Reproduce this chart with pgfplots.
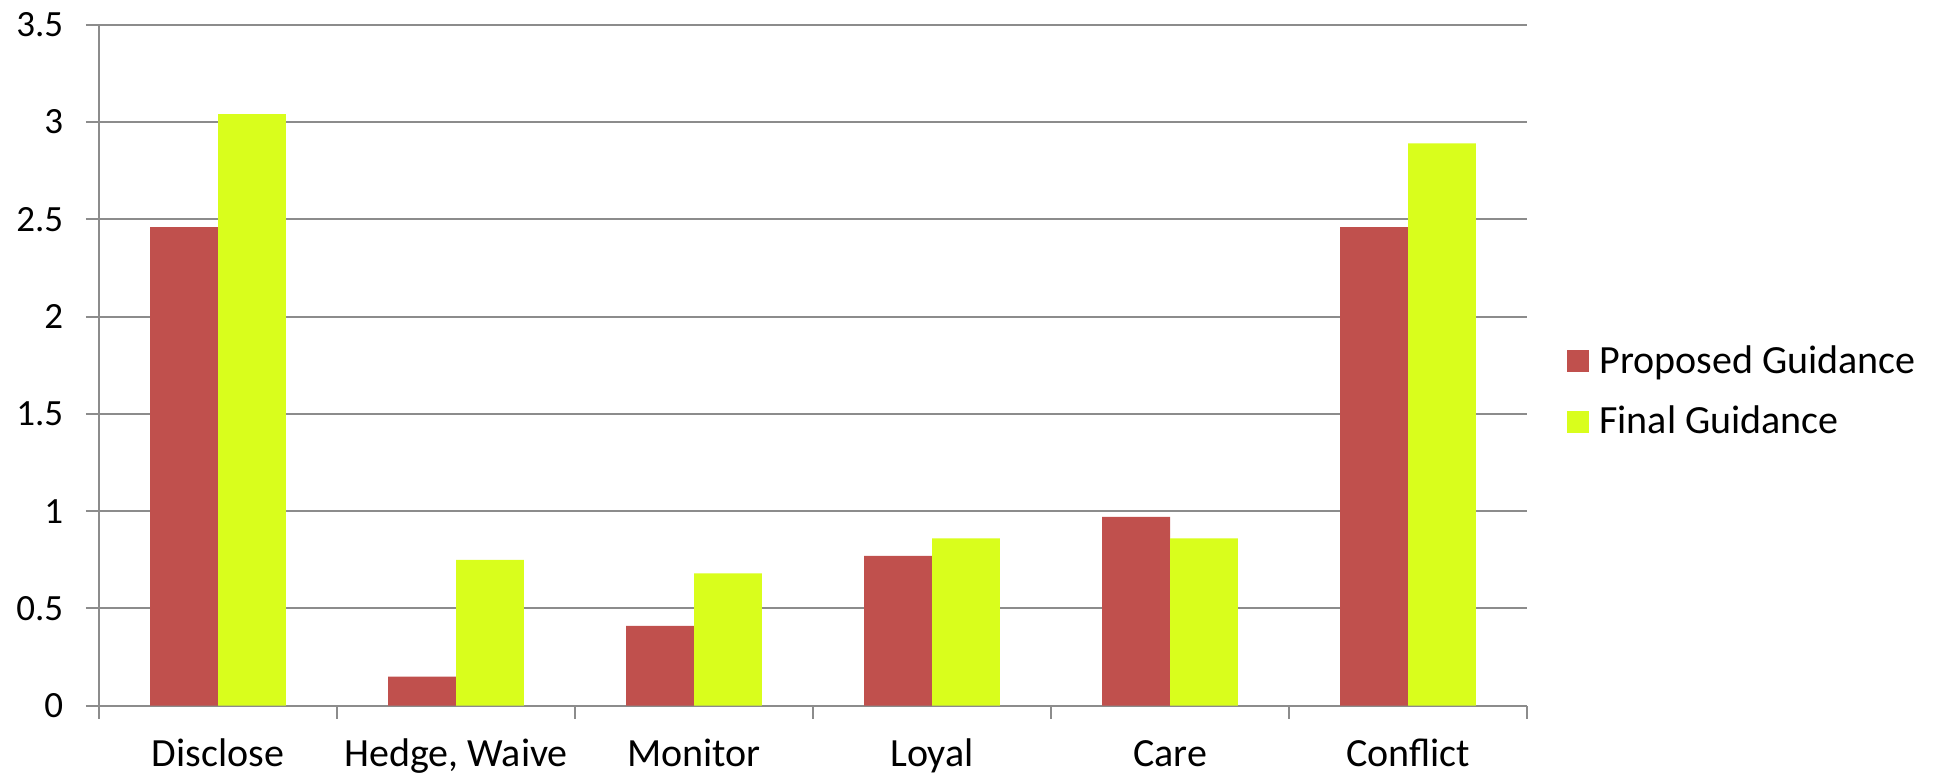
\documentclass[border=0pt]{standalone}
\usepackage{pgfplots}
\pgfplotsset{compat=1.18}
\usepackage{fontspec}
\setmainfont{Carlito}
\definecolor{redbar}{HTML}{C0504D}
\definecolor{greenbar}{HTML}{D9FE1C}
\definecolor{gridgray}{HTML}{8C8C8C}
\newcommand{\tickfont}{\fontsize{18.5}{22}\selectfont}
\newcommand{\catfont}{\fontsize{20}{24}\selectfont}
\newcommand{\legfont}{\fontsize{20}{24}\selectfont}
\begin{document}
\begin{tikzpicture}
\begin{axis}[
  scale only axis,
  width=714pt, height=340.5pt,
  xmin=-0.5, xmax=5.5,
  ymin=0, ymax=3.5,
  axis x line*=bottom,
  axis y line*=left,
  axis line style={gridgray, line width=1pt, -},
  tick align=outside,
  major tick length=6.5pt,
  tick style={gridgray, line width=1pt},
  xtick={-0.5,0.5,1.5,2.5,3.5,4.5,5.5},
  xticklabels={},
  extra x ticks={0,1,2,3,4,5},
  extra x tick labels={Disclose,{Hedge, Waive},Monitor,Loyal,Care,Conflict},
  extra x tick style={major tick length=0pt, grid=none,
     xticklabel style={font=\catfont, text=black, anchor=base, inner sep=0pt, yshift=-30.5pt}},
  ytick={0,0.5,1,1.5,2,2.5,3,3.5},
  ymajorgrids,
  major grid style={gridgray, line width=1pt},
  /pgf/number format/assume math mode=true,
  yticklabel style={font=\tickfont, text=black, anchor=east, inner sep=0pt, xshift=-11.25pt},
  ybar,
  bar width=0.285,
  legend style={at={(1,0.5)}, anchor=west, xshift=20pt, yshift=-13pt,
     draw=none, fill=none, font=\legfont, inner sep=0pt,
     row sep=11pt, column sep=3pt, cells={anchor=west}},
  legend image code/.code={\fill[#1] (0pt,-5.5pt) rectangle (11pt,5.5pt);},
  legend cell align=left,
]
\addplot[fill=redbar, draw=none, bar shift=-0.1425] coordinates {
  (0,2.46) (1,0.15) (2,0.41) (3,0.77) (4,0.97) (5,2.46)};
\addlegendentry{Proposed Guidance}
\addplot[fill=greenbar, draw=none, bar shift=0.1425] coordinates {
  (0,3.04) (1,0.75) (2,0.68) (3,0.86) (4,0.86) (5,2.89)};
\addlegendentry{Final Guidance}
\coordinate (bl) at (rel axis cs:0,0);
\coordinate (tr) at (rel axis cs:1,1);
\end{axis}
\pgfresetboundingbox
\path ([xshift=-49.5pt,yshift=-36.25pt]bl) rectangle ([xshift=204.5pt,yshift=12.35pt]tr);
\end{tikzpicture}
\end{document}
